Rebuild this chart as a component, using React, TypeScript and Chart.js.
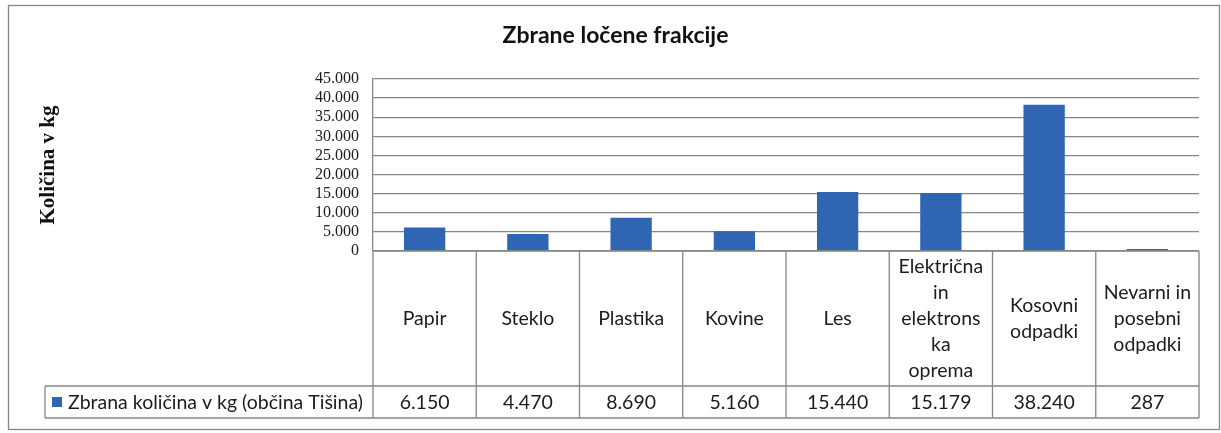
import React, { useEffect, useRef } from 'react';
import { Chart, registerables } from 'chart.js';

Chart.register(...registerables);

const chartTitle = 'Zbrane ločene frakcije';
const yAxisTitle = 'Količina v kg';
const seriesName = 'Zbrana količina v kg (občina Tišina)';
const categoryLines: string[][] = [
  ['Papir'],
  ['Steklo'],
  ['Plastika'],
  ['Kovine'],
  ['Les'],
  ['Električna', 'in', 'elektrons', 'ka', 'oprema'],
  ['Kosovni', 'odpadki'],
  ['Nevarni in', 'posebni', 'odpadki'],
];
const values = [6150, 4470, 8690, 5160, 15440, 15179, 38240, 287];
const yMin = 0;
const yMax = 45000;
const yStep = 5000;

const BAR_COLOR = '#2f65b3';
const LINE_COLOR = '#868686';
const TEXT_COLOR = '#1c1c1c';
const SANS = 'Lato, "Open Sans", sans-serif';
const SERIF = '"Liberation Serif", "DejaVu Serif", serif';

const fmt = (n: number) => String(Math.round(n)).replace(/\B(?=(\d{3})+(?!\d))/g, '.');

const tablePlugin = {
  id: 'dataTable',
  beforeDraw(chart: any) {
    const ctx = chart.ctx;
    ctx.save();
    ctx.fillStyle = '#ffffff';
    ctx.fillRect(0, 0, chart.width, chart.height);
    ctx.restore();
  },
  afterDraw(chart: any) {
    const ctx = chart.ctx;
    const xs = chart.scales.x;
    const area = chart.chartArea;
    const n = categoryLines.length;
    const left = area.left;
    const right = area.right;
    const top = area.bottom;
    const rowSplit = top + 135;
    const bottom = rowSplit + 32;
    const legendLeft = 45;

    const line = (x1: number, y1: number, x2: number, y2: number) => {
      ctx.beginPath();
      ctx.moveTo(x1, y1);
      ctx.lineTo(x2, y2);
      ctx.stroke();
    };

    ctx.save();
    ctx.strokeStyle = LINE_COLOR;
    ctx.lineWidth = 1.3;

    // outer chart border
    ctx.strokeRect(8.5, 5.5, chart.width - 10, chart.height - 9);

    line(left, top, right, top);
    line(legendLeft, rowSplit, right, rowSplit);
    line(legendLeft, bottom, right, bottom);
    line(legendLeft, rowSplit, legendLeft, bottom);

    const bounds: number[] = [];
    for (let i = 0; i <= n; i++) {
      let bx: number;
      if (i === 0) bx = left;
      else if (i === n) bx = right;
      else bx = (xs.getPixelForValue(i - 1) + xs.getPixelForValue(i)) / 2;
      bounds.push(bx);
      line(bx, top, bx, bottom);
    }

    ctx.fillStyle = TEXT_COLOR;
    ctx.font = `19.5px ${SANS}`;
    ctx.textAlign = 'center';
    ctx.textBaseline = 'middle';
    const lh = 26;
    const catMid = (top + rowSplit) / 2;
    const valMid = (rowSplit + bottom) / 2;
    for (let i = 0; i < n; i++) {
      const cx = (bounds[i] + bounds[i + 1]) / 2;
      const ls = categoryLines[i];
      const start = catMid - ((ls.length - 1) * lh) / 2;
      ls.forEach((t, j) => ctx.fillText(t, cx, start + j * lh));
      ctx.fillText(fmt(values[i]), cx, valMid + 1);
    }

    // legend key
    ctx.fillStyle = BAR_COLOR;
    ctx.fillRect(52, valMid - 5, 10, 10);
    ctx.fillStyle = TEXT_COLOR;
    ctx.textAlign = 'left';
    ctx.fillText(seriesName, 68, valMid + 1);
    ctx.restore();
  },
};

export default function App() {
  const ref = useRef<HTMLCanvasElement | null>(null);

  useEffect(() => {
    document.body.style.margin = '0';
    const canvas = ref.current;
    if (!canvas) return;
    const chart = new Chart(canvas, {
      type: 'bar',
      data: {
        labels: categoryLines.map((l) => l.join(' ')),
        datasets: [
          {
            label: seriesName,
            data: values,
            backgroundColor: BAR_COLOR,
            borderWidth: 0,
            barPercentage: 0.4,
            categoryPercentage: 1,
            minBarLength: 2,
          },
        ],
      },
      options: {
        responsive: false,
        animation: false,
        events: [],
        devicePixelRatio: 1,
        layout: { padding: { top: 12, left: 32, right: 22, bottom: 182 } },
        plugins: {
          legend: { display: false },
          tooltip: { enabled: false },
          title: {
            display: true,
            text: chartTitle,
            color: '#111',
            font: { family: SANS, size: 23, weight: 'bold' },
            padding: { top: 10.2, bottom: 29.2 },
          },
        },
        scales: {
          x: {
            display: false,
            offset: true,
          },
          y: {
            min: yMin,
            max: yMax,
            afterFit: (scale: any) => {
              scale.width = 341;
            },
            ticks: {
              stepSize: yStep,
              autoSkip: false,
              padding: 14,
              color: TEXT_COLOR,
              font: { family: SERIF, size: 16, lineHeight: 1 },
              callback: (v: any) => fmt(Number(v)),
            },
            grid: { color: LINE_COLOR, lineWidth: 1.3, drawTicks: false },
            border: { display: true, color: LINE_COLOR, width: 1.3 },
            title: {
              display: true,
              text: yAxisTitle,
              color: '#111',
              font: { family: SERIF, size: 21, weight: 'bold' },
              padding: { top: 4, bottom: 4 },
            },
          },
        },
      },
      plugins: [tablePlugin],
    });
    return () => chart.destroy();
  }, []);

  return <canvas ref={ref} width={1221} height={433} style={{ display: 'block' }} />;
}
